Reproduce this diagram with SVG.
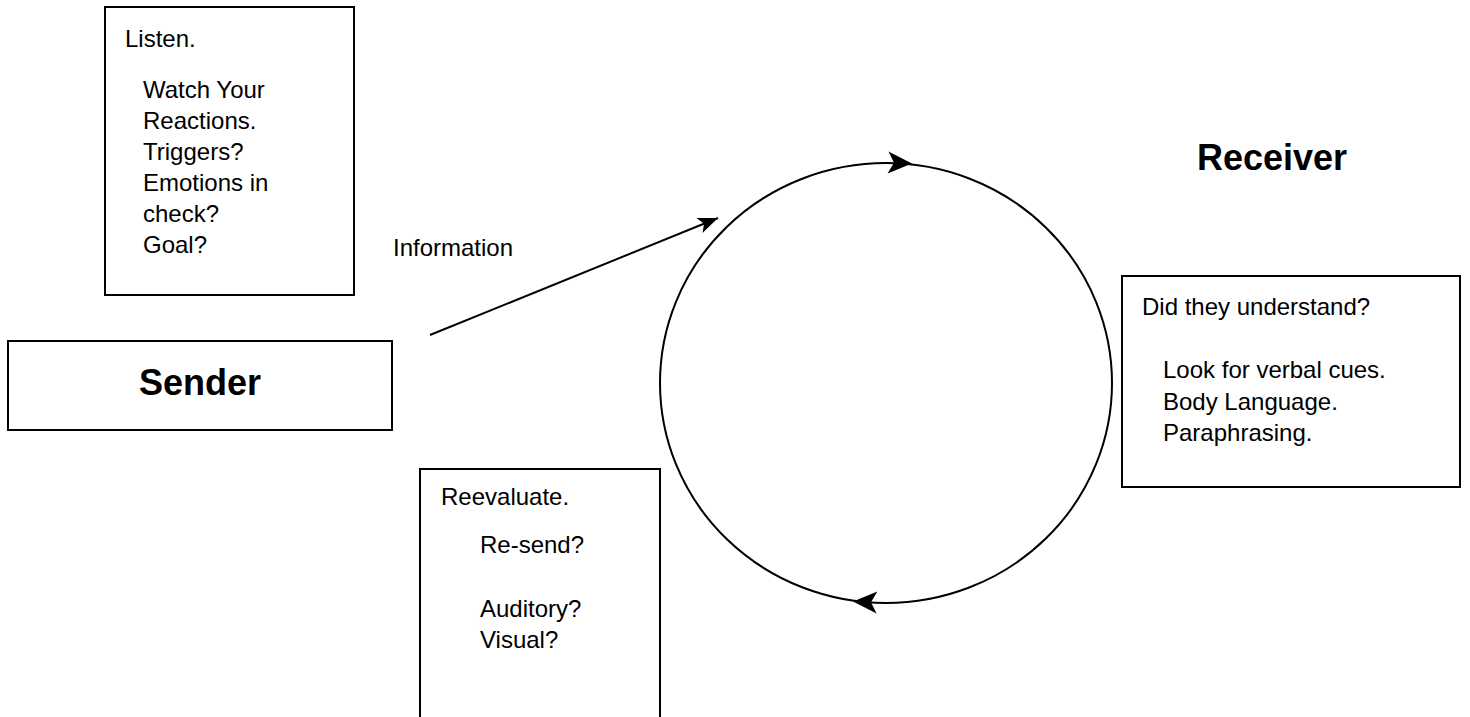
<svg xmlns="http://www.w3.org/2000/svg" width="1470" height="717" viewBox="0 0 1470 717">
<defs>
<style>
.box{fill:#fff;stroke:#000;stroke-width:2}
.t{font-family:"Liberation Sans",Arial,sans-serif;font-size:24px;fill:#000}
.b{font-family:"Liberation Sans",Arial,sans-serif;font-size:36px;font-weight:bold;fill:#000}
.ln{fill:none;stroke:#000;stroke-width:2}
</style>
<marker id="ah" markerUnits="userSpaceOnUse" markerWidth="24" markerHeight="20" viewBox="-2 -10 24 20" refX="20" refY="0" orient="auto">
<path d="M0,-8 L20,0 L0,8 L5,0 z" fill="#000"/>
</marker>
<marker id="ahc" markerUnits="userSpaceOnUse" markerWidth="28" markerHeight="24" viewBox="-2 -12 28 24" refX="24" refY="0" orient="auto">
<path d="M0,-11 L24,0 L0,11 L6,0 z" fill="#000"/>
</marker>
</defs>
<rect width="1470" height="717" fill="#fff"/>
<g id="connectors">
<ellipse class="ln" cx="886" cy="383" rx="226" ry="220"/>
<path class="ln" d="M430,335 L718,218" marker-end="url(#ah)"/>
<path d="M890,162.6 L912,163.6" fill="none" stroke="none" marker-end="url(#ahc)"/>
<path d="M876,602.4 L853,601.6" fill="none" stroke="none" marker-end="url(#ahc)"/>
</g>
<g id="listen">
<rect class="box" x="105" y="7" width="249" height="288"/>
<text class="t" x="125" y="47">Listen.</text>
<text class="t" x="143" y="98">Watch Your</text>
<text class="t" x="143" y="129">Reactions.</text>
<text class="t" x="143" y="160">Triggers?</text>
<text class="t" x="143" y="191">Emotions in</text>
<text class="t" x="143" y="222">check?</text>
<text class="t" x="143" y="253">Goal?</text>
</g>
<g id="sender">
<rect class="box" x="8" y="341" width="384" height="89"/>
<text class="b" x="200" y="395" text-anchor="middle">Sender</text>
</g>
<g id="receiver">
<text class="b" x="1197" y="170">Receiver</text>
</g>
<g id="information">
<text class="t" x="393" y="256">Information</text>
</g>
<g id="understand">
<rect class="box" x="1122" y="276" width="338" height="211"/>
<text class="t" x="1142" y="315">Did they understand?</text>
<text class="t" x="1163" y="378">Look for verbal cues.</text>
<text class="t" x="1163" y="410">Body Language.</text>
<text class="t" x="1163" y="441">Paraphrasing.</text>
</g>
<g id="reevaluate">
<path class="ln" d="M420,717 L420,469 L660,469 L660,717"/>
<text class="t" x="441" y="505">Reevaluate.</text>
<text class="t" x="480" y="553">Re-send?</text>
<text class="t" x="480" y="617">Auditory?</text>
<text class="t" x="480" y="648">Visual?</text>
</g>
</svg>
